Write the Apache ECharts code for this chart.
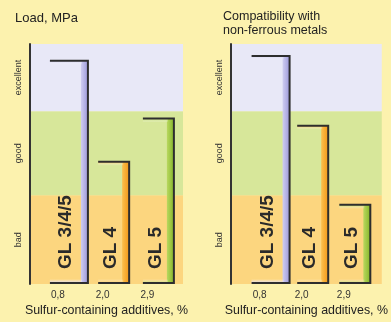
<!DOCTYPE html>
<html>
<head>
<meta charset="utf-8">
<script src="https://cdn.jsdelivr.net/npm/echarts@6/dist/echarts.min.js"></script>
<style>
  html, body { margin: 0; padding: 0; background: #fcf2ae; }
  #chart { width: 391px; height: 322px; }
</style>
</head>
<body>
<div id="chart"></div>
<script>
// data (score 0..10, bad -> excellent)
const additives = ['0,8', '2,0', '2,9']
const gradeNames = ['GL 3/4/5', 'GL 4', 'GL 5']
const loadScores = [9.3, 5.1, 6.9]
const compatScores = [9.5, 6.6, 3.3]
const ratingNames = ['bad', 'good', 'excellent']
const ratingBounds = [0, 3.7, 7.2, 10]

// styles
const font = 'Liberation Sans, Arial, sans-serif'
const bandColors = ['#fcd67f', '#d7e79a', '#e8e8f7']
const barWidths = [38, 31, 31]
const barColors = [
  { dark: '#9d99da', light: '#cfcdf0' },
  { dark: '#f39818', light: '#fbc04e' },
  { dark: '#84b628', light: '#b9d860' }
]

const ratingCenters = ratingNames.map((n, i) => (ratingBounds[i] + ratingBounds[i + 1]) / 2)

const bracketItem = (params, api) => {
  const i = api.value(0)
  const top = api.coord([i, api.value(1)])
  const base = api.coord([i, 0])
  const w = barWidths[i]
  const left = top[0] - w / 2
  const right = top[0] + w / 2
  const y0 = top[1]
  const y1 = base[1] - 1
  const c = barColors[i]
  return {
    type: 'group',
    children: [
      {
        type: 'rect',
        shape: { x: right - 7, y: y0, width: 7, height: y1 - y0 },
        style: { fill: { type: 'linear', x: 0, y: 0, x2: 1, y2: 0, colorStops: [{ offset: 0, color: c.light }, { offset: 1, color: c.dark }] } }
      },
      {
        type: 'rect',
        shape: { x: left, y: y0, width: w - 6, height: 4 },
        style: { fill: { type: 'linear', x: 0, y: 0, x2: 0, y2: 1, colorStops: [{ offset: 0, color: c.light }, { offset: 1, color: 'rgba(255,255,255,0)' }] } }
      },
      {
        type: 'rect',
        shape: { x: left, y: y1 - 4, width: w - 6, height: 4 },
        style: { fill: { type: 'linear', x: 0, y: 0, x2: 0, y2: 1, colorStops: [{ offset: 0, color: 'rgba(255,255,255,0)' }, { offset: 1, color: c.light }] } }
      },
      {
        type: 'polyline',
        shape: { points: [[left, y0], [right, y0], [right, y1], [left, y1]] },
        style: { stroke: '#2e2e2e', lineWidth: 2, fill: null }
      },
      {
        type: 'text',
        x: left + (w - 6) / 2,
        y: y1 - 14,
        rotation: Math.PI / 2,
        style: {
          text: gradeNames[i], x: 0, y: 0, fill: '#2a2a2a',
          fontSize: 19, fontWeight: 'bold', fontFamily: font,
          align: 'left', verticalAlign: 'middle'
        }
      }
    ]
  }
}

const makeXAxis = (gridIndex, min, max) => ({
  gridIndex,
  type: 'value',
  min,
  max,
  axisLine: { show: false, onZero: false },
  axisTick: { show: false },
  splitLine: { show: false },
  axisLabel: {
    customValues: [0, 1, 2],
    formatter: v => additives[v],
    fontSize: 10,
    color: '#333',
    margin: 6,
    padding: [0, 22, 0, 0]
  },
  name: 'Sulfur-containing additives, %',
  nameLocation: 'middle',
  nameGap: 20,
  nameTextStyle: { fontSize: 12.4, color: '#222' }
})

const makeYAxis = gridIndex => ({
  gridIndex,
  type: 'value',
  min: 0,
  max: 10,
  z: 4,
  axisLine: { show: true, onZero: false, lineStyle: { color: '#333', width: 2 } },
  axisTick: { show: false },
  splitLine: { show: false },
  axisLabel: {
    customValues: ratingCenters,
    formatter: v => ratingNames[ratingCenters.indexOf(v)],
    rotate: 90,
    fontSize: 9,
    color: '#333',
    margin: 7
  }
})

const bandSeries = idx => ({
  type: 'line',
  xAxisIndex: idx,
  yAxisIndex: idx,
  data: [],
  z: 1,
  markArea: {
    silent: true,
    label: { show: false },
    data: ratingNames.map((n, i) => [
      { yAxis: ratingBounds[i], itemStyle: { color: bandColors[i] } },
      { yAxis: ratingBounds[i + 1] }
    ])
  }
})

const bracketSeries = (idx, values) => ({
  type: 'custom',
  xAxisIndex: idx,
  yAxisIndex: idx,
  z: 5,
  renderItem: bracketItem,
  data: values.map((v, i) => [i, v])
})

const chart = echarts.init(document.getElementById('chart'))
chart.setOption({
  backgroundColor: '#fcf2ae',
  animation: false,
  textStyle: { fontFamily: font },
  title: [
    { text: 'Load, MPa', left: 15, top: 12, padding: 0, textStyle: { fontSize: 13, fontWeight: 'normal', color: '#222' } },
    { text: 'Compatibility with\nnon-ferrous metals', left: 223, top: 10, padding: 0, textStyle: { fontSize: 12.5, lineHeight: 14, fontWeight: 'normal', color: '#222' } }
  ],
  grid: [
    { left: 30, top: 44, width: 153, height: 244 },
    { left: 231, top: 44, width: 160, height: 244 }
  ],
  xAxis: [makeXAxis(0, -0.87, 2.55), makeXAxis(1, -0.94, 2.64)],
  yAxis: [makeYAxis(0), makeYAxis(1)],
  series: [
    bandSeries(0),
    bandSeries(1),
    bracketSeries(0, loadScores),
    bracketSeries(1, compatScores)
  ]
})
</script>
</body>
</html>
